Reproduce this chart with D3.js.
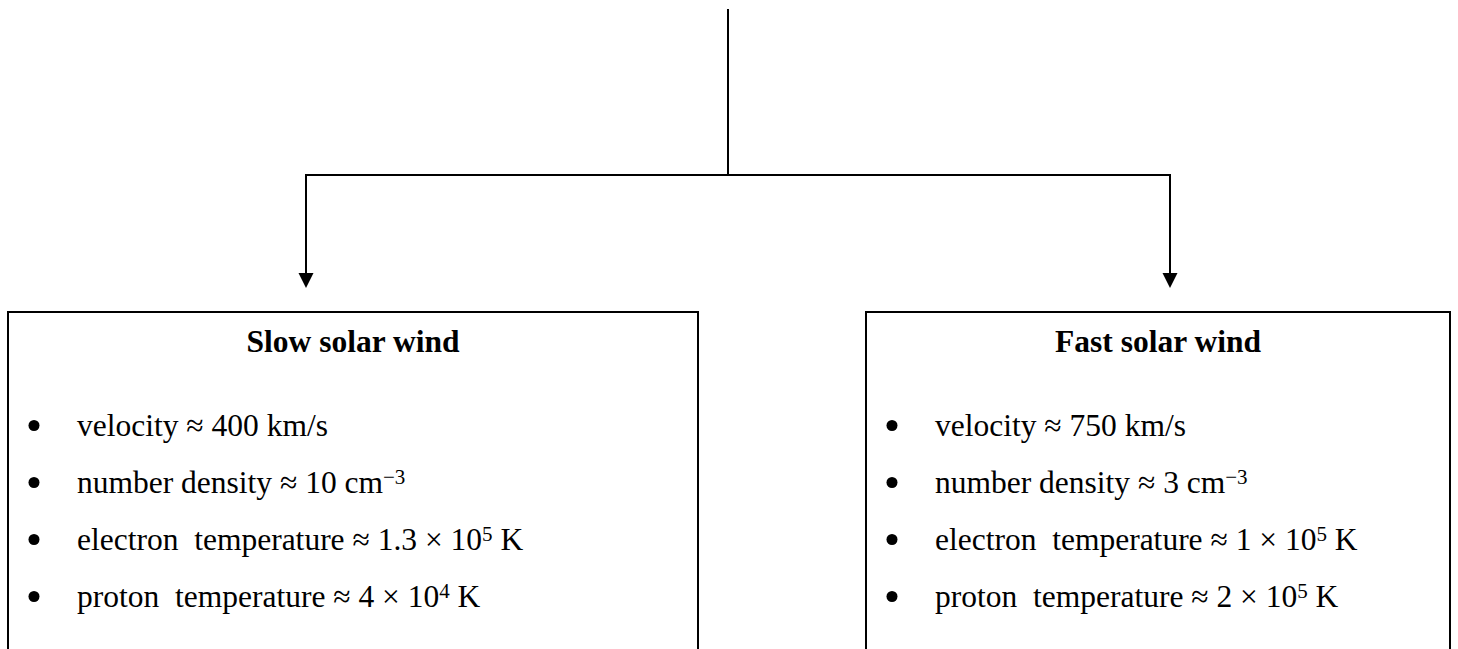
<!DOCTYPE html>
<html>
<head>
<meta charset="utf-8">
<script src="https://cdn.jsdelivr.net/npm/d3@7"></script>
<style>
  html, body { margin: 0; padding: 0; background: #fff; }
  svg { display: block; }
  text { font-family: "Liberation Serif", "Times New Roman", serif; fill: #000; white-space: pre; }
</style>
</head>
<body>
<svg id="chart" width="1458" height="649"></svg>
<script>
// ---- data ----
const categories = ["Slow solar wind", "Fast solar wind"];
const quantities = ["velocity", "number density", "electron  temperature", "proton  temperature"];
// each value: [main text, superscript, trailing text]
const slowValues = [
  ["400 km/s", "", ""],
  ["10 cm", "\u22123", ""],
  ["1.3 \u00d7 10", "5", " K"],
  ["4 \u00d7 10", "4", " K"]
];
const fastValues = [
  ["750 km/s", "", ""],
  ["3 cm", "\u22123", ""],
  ["1 \u00d7 10", "5", " K"],
  ["2 \u00d7 10", "5", " K"]
];
const seriesValues = [slowValues, fastValues];

// ---- layout ----
const W = 1458, H = 649;
const svg = d3.select("#chart");
const stroke = "#000", sw = 2;

// columns: box extents and arrow x positions
const boxLeft = d3.scaleOrdinal().domain(categories).range([8, 866]);
const boxRight = d3.scaleOrdinal().domain(categories).range([698, 1450]);
const arrowX = d3.scaleOrdinal().domain(categories).range([306, 1170]);
const rowY = d3.scaleLinear().domain([0, quantities.length - 1]).range([436, 607]);

const stemX = 728, stemTop = 9, branchY = 175, arrowTip = 288, boxTop = 312;
const fontSize = 31.5;

// stem
svg.append("line")
  .attr("x1", stemX).attr("x2", stemX).attr("y1", stemTop).attr("y2", branchY)
  .attr("stroke", stroke).attr("stroke-width", sw);
// branch
svg.append("line")
  .attr("x1", arrowX(categories[0]) - 1).attr("x2", arrowX(categories[1]) + 1)
  .attr("y1", branchY).attr("y2", branchY)
  .attr("stroke", stroke).attr("stroke-width", sw);

const col = svg.selectAll("g.col").data(categories).join("g").attr("class", "col");

// arrows
col.append("line")
  .attr("x1", d => arrowX(d)).attr("x2", d => arrowX(d))
  .attr("y1", branchY).attr("y2", arrowTip - 12)
  .attr("stroke", stroke).attr("stroke-width", sw);
col.append("path")
  .attr("d", d => {
    const x = arrowX(d);
    return `M${x - 7.5},${arrowTip - 15}L${x + 7.5},${arrowTip - 15}L${x},${arrowTip}Z`;
  })
  .attr("fill", stroke);

// boxes (extend below the visible area)
col.append("rect")
  .attr("x", d => boxLeft(d)).attr("y", boxTop)
  .attr("width", d => boxRight(d) - boxLeft(d)).attr("height", H + 20 - boxTop)
  .attr("fill", "none").attr("stroke", stroke).attr("stroke-width", sw);

// titles
col.append("text")
  .attr("x", d => (boxLeft(d) + boxRight(d)) / 2).attr("y", 352)
  .attr("text-anchor", "middle")
  .attr("font-size", fontSize).attr("font-weight", "bold")
  .text(d => d);

// bullet items
col.each(function(cat, ci) {
  const g = d3.select(this);
  const vals = seriesValues[ci];
  const items = quantities.map((q, i) => ({ q, v: vals[i], i }));
  const x0 = boxLeft(cat);

  g.selectAll("circle.bullet").data(items).join("circle")
    .attr("class", "bullet")
    .attr("cx", x0 + 26).attr("cy", d => rowY(d.i) - 10.5)
    .attr("r", 5.5).attr("fill", "#000");

  const t = g.selectAll("text.item").data(items).join("text")
    .attr("class", "item")
    .attr("x", x0 + 69).attr("y", d => rowY(d.i))
    .attr("font-size", fontSize);

  t.append("tspan").text(d => d.q + " \u2248 " + d.v[0]);
  t.filter(d => d.v[1] !== "").append("tspan")
    .attr("font-size", 21).attr("dy", -9)
    .text(d => d.v[1]);
  t.filter(d => d.v[2] !== "").append("tspan")
    .attr("dy", 9)
    .text(d => d.v[2]);
});
</script>
</body>
</html>
